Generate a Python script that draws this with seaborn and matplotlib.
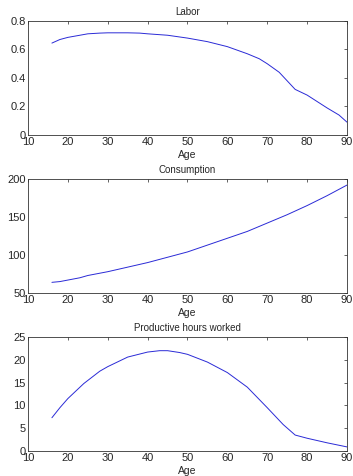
"""
Life-cycle profiles: labor, consumption and productive hours by age.
"""

import matplotlib

matplotlib.use("Agg")
import matplotlib.pyplot as plt
import pandas as pd
import seaborn as sns

# Values
labor_age = [16, 18, 20, 22, 25, 28, 30, 35, 38, 40, 45, 50, 55, 60, 65, 68, 70, 73, 75, 77, 80, 85, 88, 90]
labor = [0.645, 0.67, 0.685, 0.695, 0.71, 0.715, 0.717, 0.717, 0.715, 0.71, 0.70, 0.68, 0.655,
         0.62, 0.57, 0.535, 0.50, 0.44, 0.38, 0.32, 0.28, 0.19, 0.14, 0.09]

cons_age = [16, 18, 20, 23, 25, 30, 35, 40, 45, 50, 55, 60, 65, 70, 75, 80, 85, 90]
consumption = [64, 65, 67, 70, 73, 78, 84, 90, 97, 104, 113, 122, 131, 142, 153, 165, 178, 192]

hours_age = [16, 18, 20, 24, 28, 30, 35, 40, 43, 45, 48, 50, 55, 60, 65, 70, 74, 77, 80, 85, 90]
hours = [7.3, 9.5, 11.5, 14.8, 17.5, 18.5, 20.6, 21.7, 22.0, 22.0, 21.6, 21.2, 19.5, 17.2,
         14.0, 9.5, 5.8, 3.5, 2.8, 1.8, 0.9]

titles = ["Labor", "Consumption", "Productive hours worked"]
ylims = [(0, 0.8), (50, 200), (0, 25)]
yticks = [[0, 0.2, 0.4, 0.6, 0.8], [50, 100, 150, 200], [0, 5, 10, 15, 20, 25]]
xticks = [10, 20, 30, 40, 50, 60, 70, 80, 90]


def main():
    sns.set_style("white")
    plt.rcParams["font.family"] = ["Liberation Sans", "DejaVu Sans"]
    plt.rcParams["xtick.direction"] = "in"
    plt.rcParams["ytick.direction"] = "in"

    fig = plt.figure(figsize=(3.53, 4.76), dpi=100)
    positions = [
        [0.0793, 0.7164, 0.9037, 0.2395],
        [0.0793, 0.3845, 0.9037, 0.2395],
        [0.0793, 0.0525, 0.9037, 0.2395],
    ]
    frames = [
        pd.DataFrame({"age": labor_age, "value": labor}),
        pd.DataFrame({"age": cons_age, "value": consumption}),
        pd.DataFrame({"age": hours_age, "value": hours}),
    ]

    for pos, df, title, ylim, yt in zip(positions, frames, titles, ylims, yticks):
        ax = fig.add_axes(pos)
        sns.lineplot(data=df, x="age", y="value", ax=ax, color="#2a2ad6", linewidth=0.7)
        ax.set_xlim(10, 90)
        ax.set_ylim(*ylim)
        ax.set_xticks(xticks)
        ax.set_yticks(yt)
        ax.set_xticklabels([str(t) for t in xticks])
        ax.set_yticklabels([f"{t:g}" for t in yt])
        ax.tick_params(labelsize=8, length=2.5, width=0.5, top=True, right=True, pad=1.5)
        ax.set_title(title, fontsize=7, pad=4)
        ax.set_xlabel("Age", fontsize=7.5, labelpad=2)
        ax.set_ylabel("")
        for spine in ax.spines.values():
            spine.set_linewidth(0.6)
            spine.set_color("#333333")

    fig.savefig("out.png", dpi=100)


if __name__ == "__main__":
    main()
